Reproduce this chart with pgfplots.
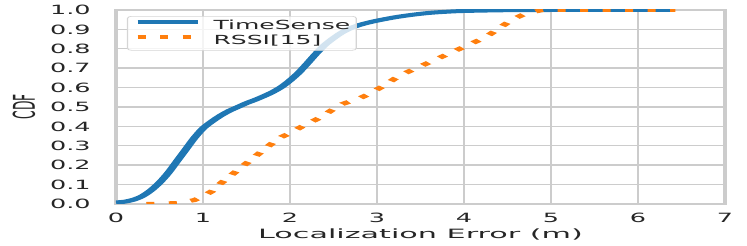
\documentclass[border=0pt]{standalone}
\usepackage{fontspec}
\setmainfont{DejaVu Sans}
\newfontfamily\xlabfont{DejaVu Sans}[FakeStretch=1.18]
\newfontfamily\cdffont{DejaVu Sans}[FakeStretch=0.82]
\usepackage{pgfplots}
\pgfplotsset{compat=1.18}
\definecolor{tabblue}{HTML}{1F77B4}
\definecolor{taborange}{HTML}{FF7F0E}
\definecolor{gridcol}{HTML}{CCCCCC}
\definecolor{legcol}{HTML}{D5D5D5}
\begin{document}
\begin{tikzpicture}
\useasboundingbox (-116bp,-42bp) rectangle (631bp,204bp);
\begin{scope}[transform canvas={xscale=2}]
\begin{axis}[
  at={(0,0)}, anchor=south west,
  scale only axis, width=304.5bp, height=194bp,
  xmin=0, xmax=7, ymin=0, ymax=1,
  xtick={0,1,2,3,4,5,6,7},
  xticklabels={0,1,2,3,4,5,6,7},
  ytick={0,0.1,0.2,0.3,0.4,0.5,0.6,0.7,0.8,0.9,1.0},
  yticklabels={0.0,0.1,0.2,0.3,0.4,0.5,0.6,0.7,0.8,0.9,1.0},
  /pgf/number format/assume math mode=true,
  grid=major,
  major grid style={line width=1.4bp, draw=gridcol},
  axis line style={line width=1.6bp, draw=gridcol},
  major tick length=0pt,
  tick style={draw=none},
  ticklabel style={font=\fontsize{12.75bp}{15bp}\selectfont, text=black!85},
  xticklabel style={anchor=north, inner sep=0pt, yshift=-9bp},
  yticklabel style={anchor=east, inner sep=0pt, xshift=-12.5bp},
  xlabel={Localization Error (m)},
  xlabel style={at={(axis description cs:0.5,0)}, anchor=north, inner sep=0pt, yshift=-24.6bp, font=\xlabfont\fontsize{12.8bp}{15bp}\selectfont, text=black!85},
  ylabel={CDF},
  ylabel style={at={(axis description cs:-0.151,0.5)}, anchor=center, inner sep=0pt, font=\cdffont\fontsize{15bp}{18bp}\selectfont, text=black!85},
  legend style={at={(axis description cs:0.018,0.969)}, anchor=north west,
    draw=legcol, line width=0.6bp, rounded corners=2bp,
    fill=white, fill opacity=0.8, text opacity=1,
    inner xsep=3bp, inner ysep=2bp, row sep=0pt, column sep=0pt,
    font=\fontsize{12.5bp}{15bp}\selectfont, text=black!85,
    nodes={font=\fontsize{12.5bp}{15bp}\selectfont, inner xsep=0pt, inner ysep=1.25bp, text height=9.5bp, text depth=3bp}},
  legend cell align=left,
  legend image code/.code={\draw[#1] (0bp,4.3bp) -- (30bp,4.3bp); \path (36bp,0bp);},
]
\addplot[tabblue, line width=4bp, smooth, tension=0.5] coordinates {
(0,0.008) (0.1,0.012) (0.2,0.022) (0.3,0.04) (0.4,0.07) (0.5,0.11)
(0.6,0.16) (0.7,0.22) (0.8,0.28) (0.9,0.34) (1.0,0.39) (1.1,0.425)
(1.2,0.455) (1.3,0.48) (1.4,0.50) (1.5,0.52) (1.6,0.537) (1.7,0.556)
(1.8,0.577) (1.9,0.603) (2.0,0.637) (2.1,0.677) (2.2,0.725) (2.3,0.775)
(2.4,0.82) (2.5,0.855) (2.6,0.885) (2.7,0.907) (2.8,0.923) (2.9,0.935)
(3.0,0.945) (3.2,0.962) (3.4,0.975) (3.6,0.985) (3.8,0.991) (4.0,0.995)
(4.5,0.999) (5.0,1.0) (6.37,1.0)
};
\addlegendentry{TimeSense\hspace{4bp}}
\addplot[taborange, line width=4bp, dash pattern=on 4bp off 7.25bp] coordinates {
(0.35,0.0) (0.7,0.005) (0.9,0.02) (1.0,0.04) (1.1,0.065) (1.2,0.105)
(1.3,0.14) (1.4,0.175) (1.5,0.21) (1.6,0.245) (1.7,0.28) (1.8,0.315)
(1.9,0.345) (2.0,0.365) (2.1,0.39) (2.2,0.415) (2.3,0.435) (2.4,0.46)
(2.5,0.49) (2.6,0.515) (2.7,0.53) (2.8,0.545) (2.9,0.565) (3.0,0.59)
(3.1,0.615) (3.2,0.645) (3.3,0.67) (3.4,0.69) (3.5,0.71) (3.6,0.73)
(3.7,0.75) (3.8,0.77) (3.9,0.79) (4.0,0.81) (4.1,0.83) (4.2,0.85)
(4.3,0.875) (4.4,0.905) (4.5,0.935) (4.6,0.96) (4.7,0.98) (4.8,0.99)
(4.9,1.0) (6.43,1.0)
};
\addlegendentry{RSSI[15]}
\end{axis}
\end{scope}
\end{tikzpicture}
\end{document}
